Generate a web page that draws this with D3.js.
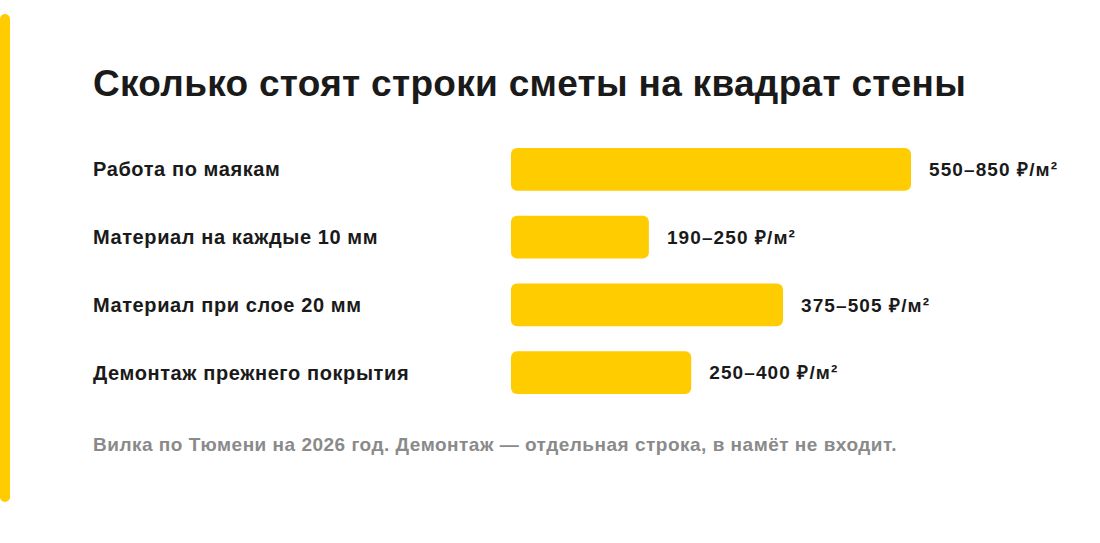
<!DOCTYPE html>
<html><head><meta charset="utf-8">
<script src="https://cdn.jsdelivr.net/npm/d3@7"></script>
<style>
body{margin:0;background:#fff;font-family:"Liberation Sans",Arial,sans-serif;}
</style></head>
<body><svg id="chart" width="1100" height="543"></svg>
<script>
const categories = ['Работа по маякам', 'Материал на каждые 10 мм', 'Материал при слое 20 мм', 'Демонтаж прежнего покрытия'];
const rangeLabels = ['550–850 ₽/м²', '190–250 ₽/м²', '375–505 ₽/м²', '250–400 ₽/м²'];
// bar lengths as drawn in the picture, in ₽/м² on the same axis
const barValues = [850, 293, 578, 383];
const title = 'Сколько стоят строки сметы на квадрат стены';
const note = 'Вилка по Тюмени на 2026 год. Демонтаж — отдельная строка, в намёт не входит.';

const svg = d3.select('#chart');
const yellow = '#FFCC00';

svg.append('rect').attr('x', 0).attr('y', 14).attr('width', 10).attr('height', 488)
    .attr('rx', 5).attr('fill', yellow);

svg.append('text').attr('x', 93).attr('y', 96).text(title)
    .attr('font-size', 37).attr('font-weight', 700).attr('fill', '#1a1a1a')
    .attr('letter-spacing', 0.3);

const x = d3.scaleLinear().domain([0, 850]).range([511, 911]);
const y = d3.scaleBand().domain(categories).range([148, 394]).paddingInner(0.37).paddingOuter(0);

const row = svg.selectAll('g.row').data(categories).join('g').attr('class', 'row');

row.append('text').attr('x', 93).attr('y', d => y(d) + y.bandwidth() / 2)
    .attr('dy', '0.35em').text(d => d)
    .attr('font-size', 20).attr('font-weight', 700).attr('fill', '#1a1a1a')
    .attr('letter-spacing', 0.6);

row.append('rect').attr('x', x(0)).attr('y', d => y(d))
    .attr('width', (d, i) => x(barValues[i]) - x(0)).attr('height', y.bandwidth())
    .attr('rx', 6).attr('fill', yellow);

row.append('text').attr('x', (d, i) => x(barValues[i]) + 18)
    .attr('y', d => y(d) + y.bandwidth() / 2).attr('dy', '0.35em')
    .text((d, i) => rangeLabels[i])
    .attr('font-size', 19).attr('font-weight', 700).attr('fill', '#1a1a1a')
    .attr('letter-spacing', 1.1);

svg.append('text').attr('x', 93).attr('y', 451).text(note)
    .attr('font-size', 19).attr('font-weight', 700).attr('fill', '#8a8a8a')
    .attr('letter-spacing', 0.5);
</script></body></html>
